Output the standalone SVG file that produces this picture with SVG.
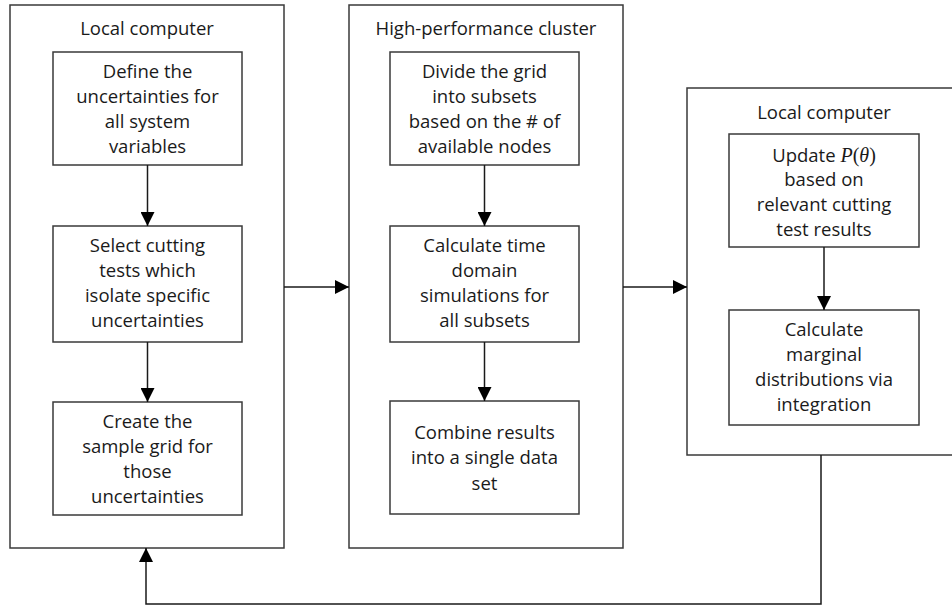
<svg xmlns="http://www.w3.org/2000/svg" width="952" height="607" viewBox="0 0 952 607">
  <defs>
    <marker id="arrow" viewBox="0 0 10 10" refX="10" refY="5" markerWidth="15" markerHeight="14" markerUnits="userSpaceOnUse" orient="auto">
      <path d="M0,0 L10,5 L0,10 Z" fill="#000"/>
    </marker>
  </defs>
  <style>
    .panel { fill: #fff; stroke: #3a3a3a; stroke-width: 1.5; }
    .step { fill: #fff; stroke: #3a3a3a; stroke-width: 1.5; }
    .title, .label { font-family: "Open Sans", "Liberation Sans", sans-serif; font-size: 18.5px; fill: #1a1a1a; text-anchor: middle; }
    .math { font-family: "Liberation Serif", "DejaVu Serif", serif; font-size: 20px; }
    .math .it { font-style: italic; }
    .link { fill: none; stroke: #1a1a1a; stroke-width: 1.5; marker-end: url(#arrow); }
  </style>
  <rect width="952" height="607" fill="#fff"/>

  <!-- panels -->
  <g id="panel-local-1">
    <rect class="panel" x="10" y="5" width="274" height="543"/>
    <text class="title" x="147" y="35">Local computer</text>
  </g>
  <g id="panel-cluster">
    <rect class="panel" x="349" y="5" width="274" height="543"/>
    <text class="title" x="486" y="35">High-performance cluster</text>
  </g>
  <g id="panel-local-2">
    <rect class="panel" x="687" y="88" width="270" height="367"/>
    <text class="title" x="824" y="119">Local computer</text>
  </g>

  <!-- steps on the local computer -->
  <g id="define-uncertainties">
    <rect class="step" x="53" y="52" width="189" height="113"/>
    <text class="label" x="147.5" y="78">Define the</text>
    <text class="label" x="147.5" y="103">uncertainties for</text>
    <text class="label" x="147.5" y="128">all system</text>
    <text class="label" x="147.5" y="153">variables</text>
  </g>
  <g id="select-tests">
    <rect class="step" x="53" y="226" width="189" height="116"/>
    <text class="label" x="147.5" y="252">Select cutting</text>
    <text class="label" x="147.5" y="277">tests which</text>
    <text class="label" x="147.5" y="302">isolate specific</text>
    <text class="label" x="147.5" y="327">uncertainties</text>
  </g>
  <g id="create-grid">
    <rect class="step" x="53" y="402" width="189" height="113"/>
    <text class="label" x="147.5" y="428">Create the</text>
    <text class="label" x="147.5" y="453">sample grid for</text>
    <text class="label" x="147.5" y="478">those</text>
    <text class="label" x="147.5" y="503">uncertainties</text>
  </g>

  <!-- steps on the cluster -->
  <g id="divide-grid">
    <rect class="step" x="390" y="52" width="189" height="113"/>
    <text class="label" x="484.5" y="78">Divide the grid</text>
    <text class="label" x="484.5" y="103">into subsets</text>
    <text class="label" x="484.5" y="128">based on the # of</text>
    <text class="label" x="484.5" y="153">available nodes</text>
  </g>
  <g id="simulate">
    <rect class="step" x="390" y="226" width="189" height="116"/>
    <text class="label" x="484.5" y="252">Calculate time</text>
    <text class="label" x="484.5" y="277">domain</text>
    <text class="label" x="484.5" y="302">simulations for</text>
    <text class="label" x="484.5" y="327">all subsets</text>
  </g>
  <g id="combine-results">
    <rect class="step" x="390" y="401" width="189" height="113"/>
    <text class="label" x="484.5" y="439">Combine results</text>
    <text class="label" x="484.5" y="464">into a single data</text>
    <text class="label" x="484.5" y="490">set</text>
  </g>

  <!-- steps on the second local computer -->
  <g id="update-prior">
    <rect class="step" x="729" y="134" width="190" height="113"/>
    <text class="label" x="824" y="162">Update <tspan class="math"><tspan class="it">P</tspan>(<tspan class="it">θ</tspan>)</tspan></text>
    <text class="label" x="824" y="186">based on</text>
    <text class="label" x="824" y="211">relevant cutting</text>
    <text class="label" x="824" y="236">test results</text>
  </g>
  <g id="marginals">
    <rect class="step" x="729" y="310" width="190" height="115"/>
    <text class="label" x="824" y="336">Calculate</text>
    <text class="label" x="824" y="361">marginal</text>
    <text class="label" x="824" y="386">distributions via</text>
    <text class="label" x="824" y="411">integration</text>
  </g>

  <!-- connectors -->
  <g id="connectors">
    <line class="link" x1="147.5" y1="165" x2="147.5" y2="226"/>
    <line class="link" x1="147.5" y1="342" x2="147.5" y2="402"/>
    <line class="link" x1="484.5" y1="165" x2="484.5" y2="226"/>
    <line class="link" x1="484.5" y1="342" x2="484.5" y2="401"/>
    <line class="link" x1="824" y1="247" x2="824" y2="310"/>
    <line class="link" x1="284" y1="287" x2="349" y2="287"/>
    <line class="link" x1="623" y1="287" x2="687" y2="287"/>
    <polyline class="link" points="821,455 821,604 146,604 146,548"/>
  </g>
</svg>
